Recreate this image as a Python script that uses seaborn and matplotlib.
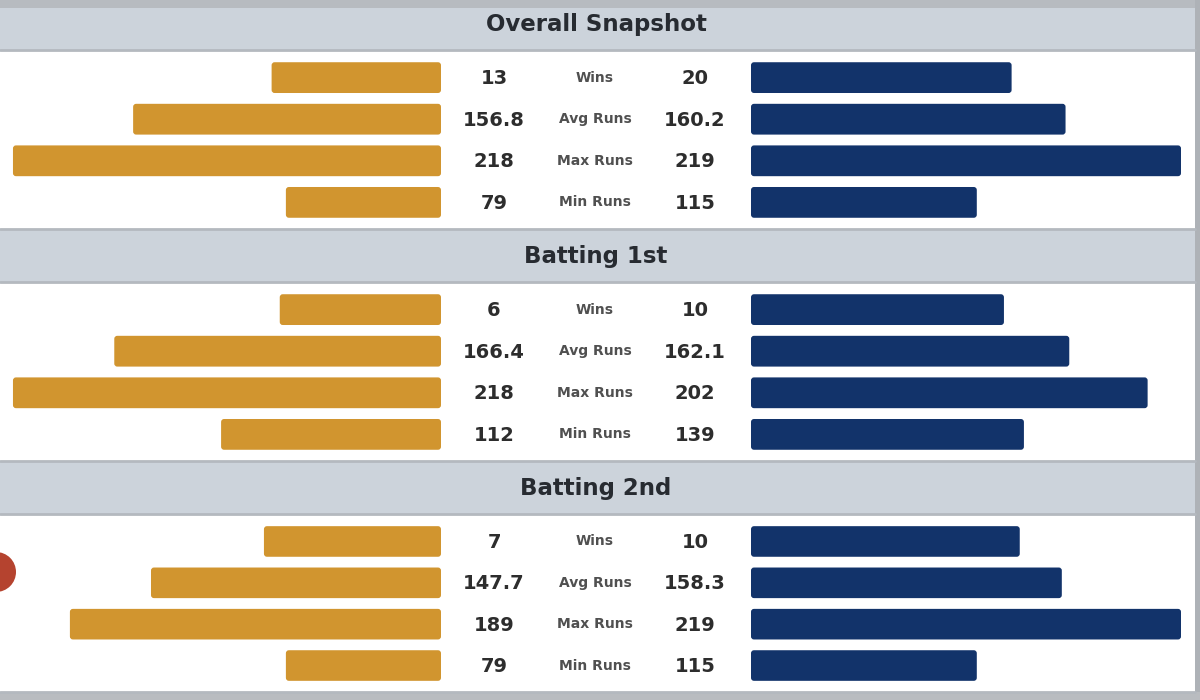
import numpy as np
import pandas as pd
import matplotlib
matplotlib.use("Agg")
import matplotlib.pyplot as plt
import seaborn as sns
from matplotlib.patches import Rectangle, FancyBboxPatch, Circle

# data
sections = ["Overall Snapshot", "Batting 1st", "Batting 2nd"]
metrics = ["Wins", "Avg Runs", "Max Runs", "Min Runs"]
left_vals = [[13, 156.8, 218, 79],
             [6, 166.4, 218, 112],
             [7, 147.7, 189, 79]]
right_vals = [[20, 160.2, 219, 115],
              [10, 162.1, 202, 139],
              [10, 158.3, 219, 115]]
# matches played (wins bars are scaled by these)
left_matches = [33, 16, 17]
right_matches = [33, 17, 16]

gold = "#D1952F"
navy = "#12336A"
band = "#CCD3DB"
line_c = "#B4B9BF"

# long table, bar length = share of matches (wins) or share of top score (runs)
run_max = max(max(r[1:]) for r in left_vals + right_vals)
rows = []
for s, sec in enumerate(sections):
    for m, met in enumerate(metrics):
        for side, vals, matches in (("left", left_vals, left_matches),
                                    ("right", right_vals, right_matches)):
            v = vals[s][m]
            denom = matches[s] if met == "Wins" else run_max
            rows.append({"section": sec, "metric": met, "side": side,
                         "value": v, "bar": v / denom})
df = pd.DataFrame(rows)

sns.set_theme(style="white")
plt.rcParams['font.family'] = ['DejaVu Sans']

W, H = 1200, 700
fig = plt.figure(figsize=(12, 7), dpi=100)
fig.patch.set_facecolor(band)

# background in pixel space
bg = fig.add_axes([0, 0, 1, 1], zorder=-1)
bg.set_xlim(0, W)
bg.set_ylim(H, 0)
bg.axis("off")

header_y = [24, 256, 488]
row_regions = [(50, 229), (282, 461), (514, 692)]
bg.add_patch(Rectangle((0, 0), W, 8, color="#B7BBC0", lw=0))
for (top, bot) in row_regions:
    bg.add_patch(Rectangle((0, top), 1195, bot - top, color="white", lw=0))
    bg.plot([0, 1195], [top, top], color=line_c, lw=2)
    bg.plot([0, 1195], [bot, bot], color=line_c, lw=2)
bg.add_patch(Rectangle((1195, 0), 5, H, color="#AEB2B7", lw=0))
bg.add_patch(Rectangle((0, 692), W, 8, color="#B9BCC0", lw=0))
bg.add_patch(Circle((-4, 572), 20, color="#B5432F", lw=0))
for sec, yc in zip(sections, header_y):
    bg.text(596, yc + 1, sec, ha="center", va="center", fontsize=16.5,
            fontweight="bold", color="#272B31")

PX = 430.0  # pixels for a full bar
ROW_PX = 41.6


def round_bars(ax, r_px=3):
    aspect = (1 / ROW_PX) / (1 / PX)
    for p in list(ax.patches):
        x, y, w, h = p.get_x(), p.get_y(), p.get_width(), p.get_height()
        fc = p.get_facecolor()
        p.remove()
        ax.add_patch(FancyBboxPatch((x, y), w, h,
                                    boxstyle=f"round,pad=0,rounding_size={r_px / PX}",
                                    mutation_aspect=aspect, fc=fc, ec="none"))


def fax(x0, x1, y0, y1):
    return fig.add_axes([x0 / W, 1 - y1 / H, (x1 - x0) / W, (y1 - y0) / H])


for s, sec in enumerate(sections):
    top, bot = row_regions[s]
    top += 1
    sub = df[df["section"] == sec]
    ylim = (3.64, -0.64)

    axL = fax(0, 441, top, bot)
    sns.barplot(data=sub[sub["side"] == "left"], x="bar", y="metric", order=metrics,
                orient="h", color=gold, width=0.74, saturation=1, errorbar=None, ax=axL)
    axL.set_xlim(441 / PX, 0)
    axL.set_ylim(*ylim)
    round_bars(axL)
    axL.axis("off")

    axR = fax(751, 1195, top, bot)
    sns.barplot(data=sub[sub["side"] == "right"], x="bar", y="metric", order=metrics,
                orient="h", color=navy, width=0.74, saturation=1, errorbar=None, ax=axR)
    axR.set_xlim(0, 444 / PX)
    axR.set_ylim(*ylim)
    round_bars(axR)
    axR.axis("off")

    axM = fax(441, 751, top, bot)
    axM.set_xlim(0, 1)
    axM.set_ylim(*ylim)
    axM.axis("off")
    for i, met in enumerate(metrics):
        lv = left_vals[s][i]
        rv = right_vals[s][i]
        axM.text(0.171, i + 0.02, f"{lv:g}", ha="center", va="center", fontsize=14,
                 fontweight="bold", color="#2D2D2D")
        axM.text(0.497, i, met, ha="center", va="center", fontsize=10,
                 fontweight="bold", color="#505050")
        axM.text(0.819, i + 0.02, f"{rv:g}", ha="center", va="center", fontsize=14,
                 fontweight="bold", color="#2D2D2D")

fig.savefig("out.png", dpi=100, facecolor=fig.get_facecolor())
